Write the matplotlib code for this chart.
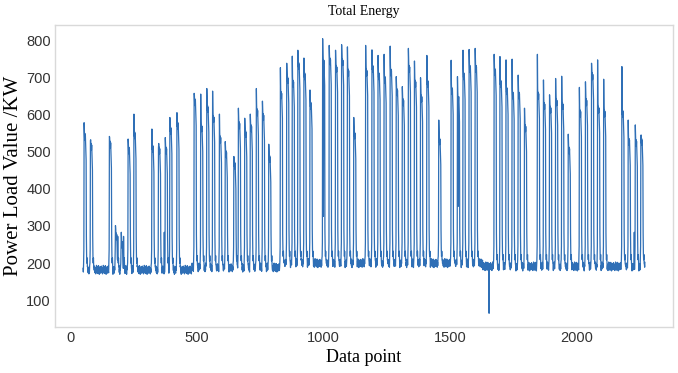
import numpy as np
import matplotlib
matplotlib.use('Agg')
import matplotlib.pyplot as plt

# data point range of the series
first_point = 50
last_point = 2271

# working-day spikes: index of the peak, peak value, level held after the peak
peak_x = [54, 79, 154, 178, 201, 228, 251, 322, 348, 375, 393, 421,
          489, 515, 539, 562, 589, 612, 646, 664, 689, 711, 735, 759, 784,
          830, 855, 877, 899, 923, 947, 997, 1023, 1048, 1072, 1095, 1120,
          1167, 1192, 1216, 1240, 1264, 1288, 1312, 1336, 1360, 1384, 1409,
          1456, 1505, 1530, 1552, 1576, 1600, 1675, 1698, 1722, 1746, 1770,
          1795, 1846, 1870, 1894, 1918, 1942, 1968, 2012, 2036, 2060, 2084,
          2108, 2180, 2205, 2233, 2255]
peak_val = [578, 530, 541, 301, 283, 534, 601, 561, 510, 538, 592, 605,
            657, 655, 670, 663, 601, 527, 487, 617, 590, 601, 670, 636, 520,
            726, 738, 757, 773, 752, 666, 804, 786, 773, 788, 782, 592,
            786, 774, 759, 762, 784, 702, 675, 778, 744, 699, 759,
            585, 746, 702, 773, 775, 778, 762, 756, 747, 749, 706,
            617, 762, 693, 653, 697, 703, 547, 673, 688, 738, 747,
            695, 729, 585, 572, 541]
hold_val = [537, 510, 516, 269, 246, 500, 541, 505, 500, 500, 554, 567,
            630, 560, 612, 585, 530, 490, 460, 568, 545, 560, 603, 590, 478,
            649, 690, 680, 728, 700, 621, 738, 740, 720, 738, 710, 541,
            710, 720, 700, 690, 710, 657, 630, 720, 680, 640, 680,
            525, 660, 640, 700, 720, 720, 711, 680, 660, 648, 648,
            560, 648, 620, 610, 630, 620, 500, 600, 630, 700, 610,
            600, 599, 523, 520, 523]

# single points that drop out of a working day or out of the base line
dip_x = [1000, 1533, 1655]
dip_val = [326, 353, 65]

# small bumps just before a spike
bump_x = [371, 2229]
bump_val = [283, 283]

# night / weekend base load, per stretch of the series
base_edges = [50, 480, 840, 1630, 2272]
base_levels = [182, 188, 200, 191]
base_wiggle = [4, -6, 9, -3, -10, 6, -2, 11, -7, 3, -12, 5,
               0, 8, -5, -9, 7, -1, 10, -4, -8, 2, 6, -11, 3, -7, 12]

# shape of one working day around its peak (offset, what it is tied to, delta)
day_shape = [(-2, 'base', 18), (-1, 'base', 55), (0, 'peak', 0),
             (1, 'hold', 22), (2, 'hold', 0), (3, 'hold', 12), (4, 'hold', -6),
             (5, 'hold', 8), (6, 'hold', -12), (7, 'hold', -28), (8, 'hold', -60),
             (9, 'base', 90), (10, 'base', 35), (11, 'base', 18),
             (12, 'base', 32), (13, 'base', 8)]

x = np.arange(first_point, last_point + 1)
base = np.zeros(len(x))
for lo, hi, lev in zip(base_edges[:-1], base_edges[1:], base_levels):
    base[(x >= lo) & (x < hi)] = lev
y = base + np.resize(base_wiggle, len(x))

for px, pv, hv in zip(peak_x, peak_val, hold_val):
    for off, ref, d in day_shape:
        i = px + off - first_point
        if 0 <= i < len(x):
            ref_val = {'base': base[i], 'peak': pv, 'hold': hv}[ref]
            y[i] = ref_val + d

for bx, bv in zip(bump_x, bump_val):
    y[bx - first_point] = bv
for dx, dv in zip(dip_x, dip_val):
    y[dx - first_point] = dv

fig = plt.figure(figsize=(6.78, 3.73), dpi=100)
ax = fig.add_axes([55 / 678, 46 / 373, 618 / 678, 302 / 373])

ax.plot(x, y, color='#2f6fb6', linewidth=0.9)

ax.set_title('Total Energy', fontfamily='Liberation Serif', fontsize=10, pad=7)
ax.set_xlabel('Data point', fontfamily='Liberation Serif', fontsize=13, labelpad=3)
ax.set_ylabel('Power Load Value /KW', fontfamily='Liberation Serif', fontsize=15, labelpad=2)

ax.set_yticks([100, 200, 300, 400, 500, 600, 700, 800])
ax.set_xticks([0, 500, 1000, 1500, 2000])
ax.tick_params(length=0, pad=3, labelsize=10.5, labelcolor='#333333')
for lbl in ax.get_xticklabels() + ax.get_yticklabels():
    lbl.set_fontfamily('Liberation Sans')
for s in ax.spines.values():
    s.set_color('#d9d9d9')
    s.set_linewidth(1.0)

fig.savefig('out.png', dpi=100)
